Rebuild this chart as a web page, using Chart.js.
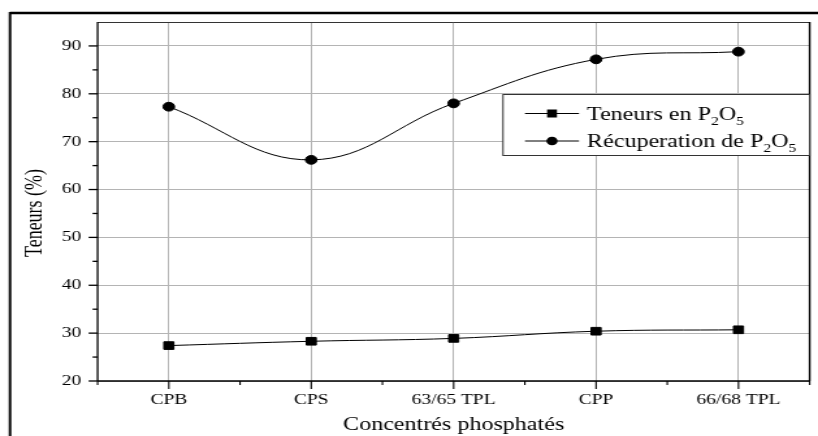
<!DOCTYPE html>
<html>
<head>
<meta charset="utf-8">
<script src="https://cdn.jsdelivr.net/npm/chart.js@4"></script>
<style>
  html, body { margin: 0; padding: 0; background: #fff; overflow: hidden; }
  #wrap { width: 818px; height: 436px; position: relative; }
  #c { display: block; }
</style>
</head>
<body>
<div id="wrap"><canvas id="c" width="629" height="436" style="width:818px;height:436px;"></canvas></div>
<script>
const categories = ['CPB', 'CPS', '63/65 TPL', 'CPP', '66/68 TPL'];
const teneurs = [27.4, 28.3, 28.9, 30.4, 30.7];
const recuperation = [77.3, 66.2, 78.0, 87.2, 88.8];
const yTicks = [20, 30, 40, 50, 60, 70, 80, 90];
const seriesNames = ['Teneurs en P2O5', 'Récuperation de P2O5'];
const legendParts = [
  [['Teneurs en P', 0], ['2', 1], ['O', 0], ['5', 1]],
  [['Récuperation de P', 0], ['2', 1], ['O', 0], ['5', 1]]
];
const xTitle = 'Concentrés phosphatés';
const yTitle = 'Teneurs (%)';

const SERIF = '"Liberation Serif", "Times New Roman", serif';
const S = 818 / 629; // horizontal stretch of the displayed canvas

const extras = {
  id: 'extras',
  beforeDraw(chart) {
    const ctx = chart.ctx;
    ctx.save();
    ctx.fillStyle = '#fff';
    ctx.fillRect(0, 0, chart.width, chart.height);
    ctx.restore();
  },
  afterDatasetsDraw(chart) {
    const ctx = chart.ctx;
    const a = chart.chartArea;
    const xs = chart.scales.x, ys = chart.scales.y;
    ctx.save();
    // outer frame
    ctx.strokeStyle = '#000';
    ctx.lineWidth = 2.5;
    ctx.beginPath();
    ctx.moveTo(10 / S, 13);
    ctx.lineTo(chart.width + 5, 13);
    ctx.stroke();
    ctx.lineWidth = 2;
    ctx.beginPath();
    ctx.moveTo(10 / S, 440);
    ctx.lineTo(10 / S, 12);
    ctx.stroke();
    // plot border
    ctx.lineWidth = 1;
    ctx.strokeStyle = '#333';
    ctx.beginPath();
    ctx.moveTo(a.left, a.top + 0.5);
    ctx.lineTo(a.right, a.top + 0.5);
    ctx.stroke();
    ctx.lineWidth = 1.4;
    ctx.strokeStyle = '#000';
    ctx.beginPath();
    ctx.moveTo(a.right, a.top);
    ctx.lineTo(a.right, a.bottom);
    ctx.stroke();
    ctx.lineWidth = 1.3;
    ctx.beginPath();
    ctx.moveTo(a.left, a.top);
    ctx.lineTo(a.left, a.bottom);
    ctx.stroke();
    ctx.lineWidth = 1.6;
    ctx.beginPath();
    ctx.moveTo(a.left, a.bottom);
    ctx.lineTo(a.right, a.bottom);
    ctx.stroke();
    // y ticks
    ctx.lineWidth = 1.3;
    for (let v = ys.min; v < ys.max; v += 5) {
      const y = ys.getPixelForValue(v);
      const len = ((v % 10 === 0) ? 9 : 5) / S;
      ctx.beginPath();
      ctx.moveTo(a.left, y);
      ctx.lineTo(a.left - len, y);
      ctx.stroke();
    }
    // x ticks
    ctx.lineWidth = 1.1;
    for (let i = 0; i < categories.length; i++) {
      const x = xs.getPixelForValue(i);
      ctx.beginPath();
      ctx.moveTo(x, a.bottom);
      ctx.lineTo(x, a.bottom + 8);
      ctx.stroke();
    }
    for (let i = 0; i <= categories.length; i++) {
      const x = xs.getPixelForValue(i - 0.5);
      ctx.beginPath();
      ctx.moveTo(x, a.bottom);
      ctx.lineTo(x, a.bottom + 4);
      ctx.stroke();
    }
    // axis titles
    ctx.fillStyle = '#000';
    ctx.font = '18.5px ' + SERIF;
    ctx.textAlign = 'center';
    ctx.textBaseline = 'middle';
    ctx.fillText(xTitle, (a.left + a.right) / 2, 425);
    ctx.save();
    ctx.font = '18px ' + SERIF;
    ctx.translate(35 / S, 213);
    ctx.rotate(-Math.PI / 2);
    ctx.fillText(yTitle, 0, 0);
    ctx.restore();
    // legend
    const lx = 503 / S, ly = 94, lw = a.right - lx, lh = 61;
    ctx.fillStyle = '#fff';
    ctx.fillRect(lx, ly, lw, lh);
    ctx.strokeStyle = '#333';
    ctx.lineWidth = 1;
    ctx.strokeRect(lx, ly + 0.5, lw, lh);
    const rows = [113.5, 141];
    chart.data.datasets.forEach((ds, i) => {
      const y = rows[i];
      const cx = 552 / S;
      ctx.strokeStyle = '#000';
      ctx.lineWidth = 1;
      ctx.beginPath();
      ctx.moveTo(525 / S, y);
      ctx.lineTo(579 / S, y);
      ctx.stroke();
      ctx.fillStyle = '#000';
      if (ds.pointStyle === 'rect') {
        ctx.fillRect(cx - 3.8, y - 4, 7.6, 8);
      } else {
        ctx.beginPath();
        ctx.arc(cx, y, 4.3, 0, Math.PI * 2);
        ctx.fill();
      }
      let x = 587 / S;
      ctx.textAlign = 'left';
      ctx.textBaseline = 'alphabetic';
      legendParts[i].forEach(([t, sub]) => {
        ctx.font = (sub ? '12px ' : '18.5px ') + SERIF;
        ctx.fillText(t, x, y + 6 + (sub ? 5 : 0));
        x += ctx.measureText(t).width;
      });
    });
    ctx.restore();
  }
};

new Chart(document.getElementById('c'), {
  type: 'line',
  data: {
    labels: categories,
    datasets: [
      {
        label: seriesNames[0],
        data: teneurs,
        borderColor: '#000',
        backgroundColor: '#000',
        borderWidth: 1,
        pointStyle: 'rect',
        pointRadius: 5.4,
        tension: 0.4
      },
      {
        label: seriesNames[1],
        data: recuperation,
        borderColor: '#000',
        backgroundColor: '#000',
        borderWidth: 1,
        pointStyle: 'circle',
        pointRadius: 4.4,
        tension: 0.4
      }
    ]
  },
  options: {
    responsive: false,
    animation: false,
    events: [],
    devicePixelRatio: 1,
    layout: { padding: { left: 0, right: 629 - 811 / S, top: 22, bottom: 0 } },
    plugins: { legend: { display: false }, tooltip: { enabled: false } },
    scales: {
      x: {
        offset: true,
        grid: { color: '#b4b4b4', lineWidth: 1, drawTicks: false, offset: false },
        border: { display: false },
        ticks: { color: '#000', font: { family: SERIF, size: 15 }, padding: 10, maxRotation: 0, autoSkip: false },
        afterFit(s) { s.height = 55; }
      },
      y: {
        min: 20,
        max: 95,
        grid: { color: '#b4b4b4', lineWidth: 1, drawTicks: false },
        border: { display: false },
        ticks: { color: '#000', font: { family: SERIF, size: 15 }, padding: 12.5 },
        afterBuildTicks(s) { s.ticks = yTicks.map(v => ({ value: v })); },
        afterFit(s) { s.width = 97.6 / S; }
      }
    }
  },
  plugins: [extras]
});
</script>
</body>
</html>
